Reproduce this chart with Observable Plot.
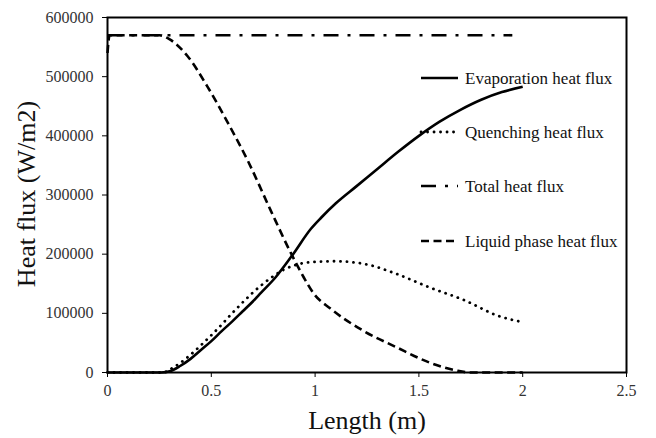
<!DOCTYPE html>
<html>
<head>
<meta charset="utf-8">
<script src="https://cdn.jsdelivr.net/npm/d3@7"></script>
<script src="https://cdn.jsdelivr.net/npm/@observablehq/plot@0.6"></script>
<style>
  html, body { margin: 0; padding: 0; background: #fff; }
  #chart svg { display: block; }
</style>
</head>
<body>
<div id="chart"></div>
<script>
// Heat flux components along the heated length
const evapLength = [0, 0.26, 0.3, 0.35, 0.4, 0.45, 0.5, 0.55, 0.6, 0.65, 0.7, 0.74, 0.81, 0.89, 0.98, 1.03, 1.1, 1.2, 1.3, 1.4, 1.5, 1.6, 1.7, 1.8, 1.9, 2.0];
const evapFlux   = [0, 0, 2000, 11000, 23000, 38000, 53000, 70000, 86000, 103000, 120000, 135000, 161000, 198000, 243000, 262000, 286000, 315000, 344000, 373000, 400000, 424000, 444000, 461000, 474000, 483000];

const quenchLength = [0, 0.27, 0.3, 0.35, 0.4, 0.45, 0.5, 0.55, 0.6, 0.65, 0.7, 0.75, 0.8, 0.85, 0.9, 0.98, 1.1, 1.27, 1.35, 1.39, 1.55, 1.72, 1.88, 2.0];
const quenchFlux   = [0, 0, 5000, 16000, 30000, 46000, 63000, 81000, 100000, 118000, 135000, 150000, 163000, 174000, 181000, 186500, 188000, 181000, 172000, 167000, 144000, 122000, 96000, 85000];

const totalLength = [0, 1.95];
const totalFlux   = [570000, 570000];

const liquidLength = [0, 0.01, 0.25, 0.3, 0.385, 0.48, 0.58, 0.68, 0.786, 0.889, 0.945, 0.994, 1.074, 1.23, 1.39, 1.55, 1.68, 1.75, 2.0];
const liquidFlux   = [540000, 570000, 570000, 563000, 535000, 484000, 422000, 355000, 274000, 198000, 161000, 133000, 108000, 71000, 43000, 17000, 3400, 0, 0];

const seriesNames = ["Evaporation heat flux", "Quenching heat flux", "Total heat flux", "Liquid phase heat flux"];

const xTicks = [0, 0.5, 1, 1.5, 2, 2.5];
const yTicks = [0, 100000, 200000, 300000, 400000, 500000, 600000];

const toRows = (xs, ys) => xs.map((x, i) => ({x, y: ys[i]}));

const styles = [
  {dash: null, width: 2.6, cap: "butt"},
  {dash: "0.1,6.4", width: 2.8, cap: "round"},
  {dash: "15,9,3,9", width: 2.6, cap: "butt"},
  {dash: "8,4.5", width: 2.6, cap: "butt"}
];

const seriesRows = [
  toRows(evapLength, evapFlux),
  toRows(quenchLength, quenchFlux),
  toRows(totalLength, totalFlux),
  toRows(liquidLength, liquidFlux)
];

const serif = "'Liberation Serif', 'Times New Roman', serif";

const plot = Plot.plot({
  width: 656,
  height: 438,
  marginLeft: 107,
  marginRight: 30,
  marginTop: 17,
  marginBottom: 66,
  style: {fontFamily: serif, fontSize: "16px", background: "#fff"},
  x: {domain: [0, 2.5]},
  y: {domain: [0, 600000]},
  marks: [
    ...seriesRows.map((rows, i) => Plot.line(rows, {
      x: "x", y: "y",
      curve: "monotone-x",
      stroke: "black",
      strokeWidth: styles[i].width,
      strokeDasharray: styles[i].dash,
      strokeLinecap: styles[i].cap
    })),
    Plot.axisX({ticks: xTicks, tickFormat: d => String(d), tickSize: 5, tickPadding: 7,
      stroke: "black", fill: "#333", label: null}),
    Plot.axisY({ticks: yTicks, tickFormat: d3.format("d"), tickSize: 5, tickPadding: 9,
      stroke: "black", fill: "#333", label: null}),
    Plot.frame({stroke: "black", strokeWidth: 2})
  ]
});

const svg = d3.select(plot);

// Axis titles
svg.append("text")
  .attr("x", 367).attr("y", 429)
  .attr("text-anchor", "middle")
  .attr("font-family", serif).attr("font-size", 26)
  .attr("fill", "#111")
  .text("Length (m)");

svg.append("text")
  .attr("transform", "translate(35,194) rotate(-90)")
  .attr("text-anchor", "middle")
  .attr("font-family", serif).attr("font-size", 26)
  .attr("fill", "#111")
  .text("Heat flux (W/m2)");

// Legend inside the plot area
const legendRows = [78, 132, 186, 241];
const legend = svg.append("g").attr("text-anchor", "start");
seriesNames.forEach((name, i) => {
  const cy = legendRows[i];
  legend.append("line")
    .attr("x1", 421).attr("x2", 458).attr("y1", cy).attr("y2", cy)
    .attr("stroke", "black").attr("stroke-width", styles[i].width)
    .attr("stroke-linecap", styles[i].cap)
    .attr("stroke-dasharray", styles[i].dash);
  legend.append("text")
    .attr("x", 465).attr("y", cy).attr("dy", "0.35em")
    .attr("text-anchor", "start")
    .attr("font-family", serif).attr("font-size", 17)
    .attr("fill", "#111")
    .text(name);
});

document.getElementById("chart").appendChild(plot);
</script>
</body>
</html>
